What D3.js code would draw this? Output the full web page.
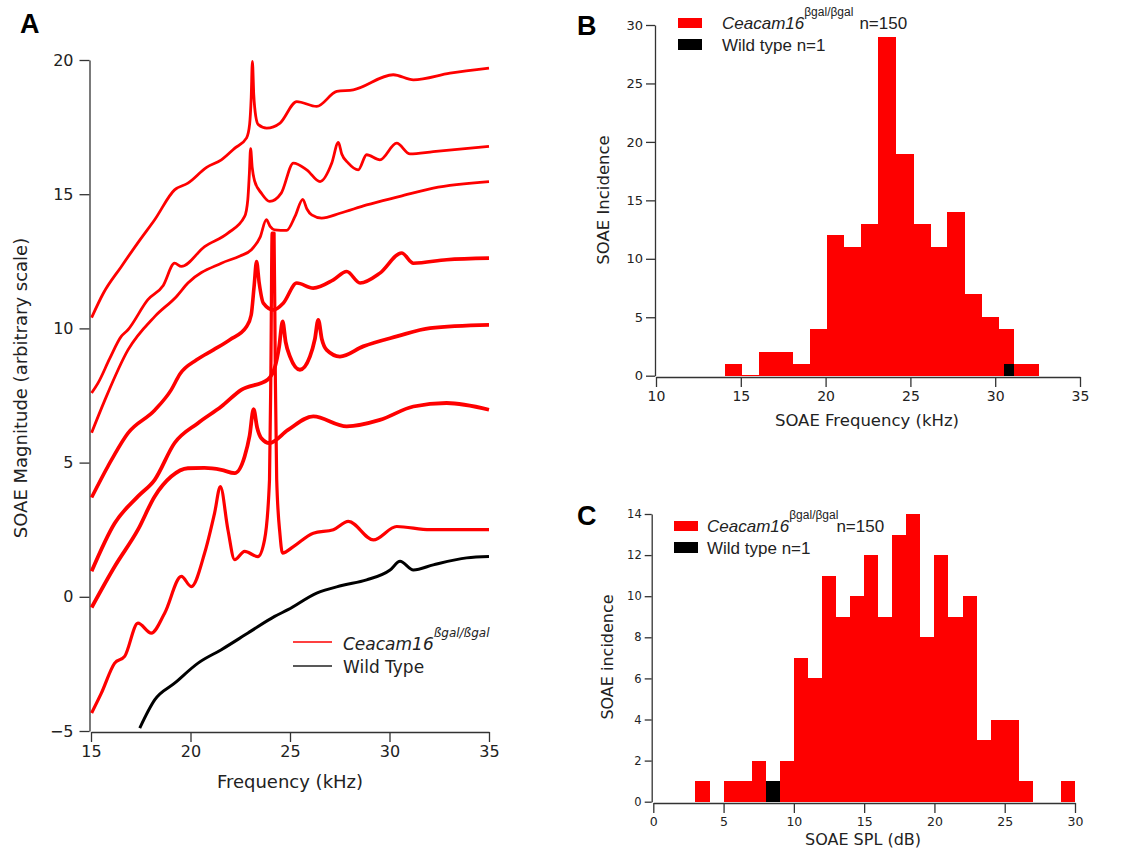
<!DOCTYPE html>
<html lang="en">
<head>
<meta charset="UTF-8">
<title>SOAE</title>
<script src="https://d3js.org/d3.v7.min.js"></script>
<style>
  body { margin: 0; background: #fff; }
  svg text { font-family: 'DejaVu Sans', sans-serif; fill: #222; }
  .axis path, .axis line { stroke: #333; stroke-width: 1.3; }
  .axis text { fill: #222; }
  .leg text { font-family: 'Liberation Sans', Arial, sans-serif; }
  .bars rect { shape-rendering: crispEdges; }
</style>
</head>
<body>
<svg id="fig" width="1134" height="851"></svg>
<script>
// ---- panel A: SOAE spectra ----
const trace1 = [[15.03,10.4],[15.62,11.31],[16.52,12.3],[17.46,13.30],[18.2,14.05],[19.2,15.16],[19.87,15.41],[20.81,16.0],[21.55,16.28],[22.2,16.7],[22.82,17.1],[22.97,17.6],[23.05,18.6],[23.11,19.95],[23.18,18.7],[23.28,17.9],[23.41,17.59],[23.83,17.46],[24.5,17.65],[25.34,18.45],[26.34,18.27],[27.35,18.83],[28.18,18.89],[30.19,19.45],[31.2,19.26],[33.04,19.51],[35.0,19.70]]
const trace2 = [[15.03,7.59],[15.35,7.96],[15.95,8.89],[16.52,9.70],[16.86,9.95],[17.86,11.07],[18.63,11.6],[19.2,12.43],[19.54,12.31],[20.71,13.05],[21.88,13.55],[22.72,14.17],[22.88,14.8],[22.96,15.8],[23.02,16.7],[23.1,16.0],[23.22,15.5],[23.56,15.04],[23.98,14.73],[24.56,15.04],[25.17,16.16],[25.84,15.91],[26.51,15.47],[27.1,16.16],[27.43,16.93],[27.6,16.5],[27.93,16.16],[28.43,15.91],[28.85,16.47],[29.52,16.28],[30.36,16.90],[31.03,16.50],[32.2,16.59],[35.0,16.78]]
const trace3 = [[15.03,6.11],[15.68,7.3],[16.86,9.2],[18.2,10.44],[19.31,11.2],[19.87,11.69],[21.55,12.43],[22.49,12.7],[23.06,12.93],[23.5,13.4],[23.81,14.05],[24.0,13.8],[24.23,13.67],[24.83,13.65],[25.25,14.17],[25.64,14.81],[25.85,14.45],[26.09,14.23],[26.59,14.11],[27.51,14.29],[28.85,14.60],[30.53,14.92],[32.2,15.23],[35.0,15.47]]
const trace4 = [[15.03,3.7],[15.85,4.86],[16.86,6.1],[18.2,6.95],[19.03,7.71],[19.47,8.3],[20.31,8.83],[21.15,9.20],[21.98,9.58],[22.82,10.07],[23.05,10.5],[23.2,11.6],[23.32,12.49],[23.45,11.7],[23.66,10.94],[24.16,10.69],[24.66,10.94],[25.34,11.69],[26.17,11.50],[27.18,11.81],[27.85,12.12],[28.52,11.69],[29.52,12.06],[30.61,12.81],[31.2,12.43],[32.87,12.56],[35.0,12.62]]
const trace5 = [[15.03,0.95],[16.19,2.74],[17.36,3.74],[18.2,4.36],[19.2,5.73],[20.37,6.47],[21.55,7.09],[22.55,7.71],[23.89,8.1],[24.25,8.58],[24.45,9.3],[24.63,10.26],[24.78,9.5],[25.0,8.95],[25.5,8.46],[26.0,8.95],[26.25,9.6],[26.42,10.32],[26.6,9.6],[26.84,9.20],[27.51,8.95],[28.68,9.33],[30.36,9.70],[32.04,10.01],[35.0,10.13]]
const trace6 = [[15.03,-0.4],[16.19,1.13],[17.36,2.50],[18.2,3.74],[19.03,4.48],[19.87,4.79],[20.7,4.8],[21.55,4.73],[22.22,4.61],[22.72,5.23],[22.97,6.0],[23.17,6.99],[23.35,6.3],[23.56,5.91],[23.97,5.73],[24.9,6.22],[26.17,6.72],[27.85,6.35],[29.52,6.59],[31.2,7.09],[32.87,7.22],[35.0,6.97]]
const trace7 = [[15.03,-4.33],[15.52,-3.59],[16.19,-2.47],[16.69,-2.22],[17.36,-0.98],[18.03,-1.35],[18.7,-0.61],[19.54,0.76],[20.04,0.38],[20.71,1.63],[21.21,3.12],[21.5,4.11],[21.88,2.5],[22.22,1.38],[22.72,1.69],[23.39,1.50],[23.72,2.12],[23.97,4.36],[24.04,8.5],[24.1,13.55],[24.2,13.55],[24.26,8.5],[24.33,4.4],[24.5,2.3],[24.62,1.63],[25.17,1.87],[26.17,2.37],[27.18,2.50],[27.93,2.81],[29.19,2.12],[30.36,2.62],[32.04,2.50],[35.0,2.50]]
const wildTrace = [[17.45,-4.89],[18.2,-3.84],[19.2,-3.22],[20.38,-2.47],[21.55,-1.97],[22.89,-1.35],[24.23,-0.73],[24.9,-0.48],[26.34,0.14],[27.6,0.42],[28.85,0.63],[30.03,1.0],[30.53,1.32],[31.2,1.0],[32.2,1.19],[33.88,1.45],[35.0,1.5]]
const aXTicks = [15, 20, 25, 30, 35]
const aYTicks = [-5, 0, 5, 10, 15, 20]

// ---- panel B: SOAE frequency histogram ----
const bEdges = [14.05,15.05,16.05,17.05,18.1,19.1,20.1,21.1,22.1,23.1,24.15,25.2,26.2,27.15,28.2,29.2,30.2,31.1,32.6]
const bCounts = [1,0,2,2,1,4,12,11,13,29,19,13,11,14,7,5,4,1]
const bWildEdges = [30.5, 31.1]
const bWildCounts = [1]
const bXTicks = [10, 15, 20, 25, 30, 35]
const bYTicks = [0, 5, 10, 15, 20, 25, 30]

// ---- panel C: SOAE level histogram (1 dB bins) ----
const cEdges = [3,4,5,6,7,8,9,10,11,12,13,14,15,16,17,18,19,20,21,22,23,24,25,26,27,28,29,30]
const cCounts = [1,0,1,1,2,0,2,7,6,11,9,10,12,9,13,14,8,12,9,10,3,4,4,1,0,0,1]
const cWildEdges = [8, 9]
const cWildCounts = [1]
const cXTicks = [0, 5, 10, 15, 20, 25, 30]
const cYTicks = [0, 2, 4, 6, 8, 10, 12, 14]

const red = '#fe0000'
const svg = d3.select('#fig')
svg.append('rect').attr('width', 1134).attr('height', 851).attr('fill', '#fff')

// panel letters
const letters = [['A', 20, 33], ['B', 577, 35], ['C', 577, 525]]
letters.forEach(l => {
  svg.append('text').attr('x', l[1]).attr('y', l[2]).text(l[0])
    .style('font-family', 'Liberation Sans, Arial, sans-serif')
    .style('font-weight', 'bold').style('font-size', '27px').style('fill', '#000')
})

// ================= A =================
let xA = d3.scaleLinear().domain([15, 35]).range([91, 489])
let yA = d3.scaleLinear().domain([-5, 20]).range([731, 60])

svg.append('g').attr('class', 'axis').attr('transform', 'translate(0,732)')
  .call(d3.axisBottom(xA).tickValues(aXTicks).tickSize(10).tickSizeOuter(0).tickPadding(4))
  .selectAll('text').style('font-size', '16px')
svg.append('g').attr('class', 'axis').attr('transform', 'translate(89.5,0)')
  .call(d3.axisLeft(yA).tickValues(aYTicks).tickSize(10).tickSizeOuter(0).tickPadding(6))
  .selectAll('text').style('font-size', '16px')

svg.append('text').attr('x', 290).attr('y', 788).attr('text-anchor', 'middle')
  .style('font-size', '18px').text('Frequency (kHz)')
svg.append('text').attr('transform', 'translate(27,388) rotate(-90)').attr('text-anchor', 'middle')
  .style('font-size', '18px').text('SOAE Magnitude (arbitrary scale)')

let line = d3.line().curve(d3.curveMonotoneX).x(d => xA(d[0])).y(d => yA(d[1]))
let redTraces = [trace1, trace2, trace3, trace4, trace5, trace6, trace7]
let redWidths = [2.8, 2.8, 2.8, 3.6, 3.8, 3.8, 3.2]
svg.selectAll('path.red').data(redTraces).enter().append('path')
  .attr('class', 'red')
  .attr('d', line)
  .attr('fill', 'none').attr('stroke', red)
  .attr('stroke-width', (d, i) => redWidths[i])
  .attr('stroke-linejoin', 'round')
svg.append('path').datum(wildTrace).attr('d', line)
  .attr('fill', 'none').attr('stroke', '#000').attr('stroke-width', 3)
  .attr('stroke-linejoin', 'round')

// legend A
svg.append('line').attr('x1', 293).attr('x2', 332).attr('y1', 642).attr('y2', 642)
  .attr('stroke', red).attr('stroke-width', 1.5)
svg.append('line').attr('x1', 293).attr('x2', 332).attr('y1', 666).attr('y2', 666)
  .attr('stroke', '#222').attr('stroke-width', 1.5)
let legA = svg.append('text').attr('x', 343).attr('y', 650).style('font-size', '17px').style('font-style', 'italic')
legA.append('tspan').text('Ceacam16')
legA.append('tspan').attr('dy', -13).style('font-size', '12px').text('ßgal/ßgal')
svg.append('text').attr('x', 343).attr('y', 673).style('font-size', '17px').text('Wild Type')

// ================= histograms =================
function histPanel (o) {
  let x = d3.scaleLinear().domain(o.xDomain).range(o.xRange)
  let y = d3.scaleLinear().domain(o.yDomain).range(o.yRange)
  let bins = o.counts.map((c, i) => ({ x0: o.edges[i], x1: o.edges[i + 1], n: c }))
    .filter(d => d.n > 0 || o.zeroLine)
  svg.append('g').attr('class', 'bars').selectAll('rect').data(bins).enter().append('rect')
    .attr('x', d => Math.round(x(d.x0)))
    .attr('width', d => Math.round(x(d.x1)) - Math.round(x(d.x0)))
    .attr('y', d => d.n > 0 ? y(d.n) : y(0) - 1.2)
    .attr('height', d => d.n > 0 ? y(0) - y(d.n) : 1.2)
    .attr('fill', red)
  let wild = o.wildCounts.map((c, i) => ({ x0: o.wildEdges[i], x1: o.wildEdges[i + 1], n: c }))
  svg.append('g').attr('class', 'bars').selectAll('rect').data(wild).enter().append('rect')
    .attr('x', d => Math.round(x(d.x0)))
    .attr('width', d => Math.round(x(d.x1)) - Math.round(x(d.x0)))
    .attr('y', d => y(d.n)).attr('height', d => y(0) - y(d.n))
    .attr('fill', '#000')

  svg.append('g').attr('class', 'axis').attr('transform', 'translate(0,' + o.xAxisY + ')')
    .call(d3.axisBottom(x).tickValues(o.xTicks).tickSize(10).tickSizeOuter(0).tickPadding(4))
    .selectAll('text').style('font-size', o.xFont)
  svg.append('g').attr('class', 'axis').attr('transform', 'translate(' + o.yAxisX + ',0)')
    .call(d3.axisLeft(y).tickValues(o.yTicks).tickSize(o.yTick).tickSizeOuter(0).tickPadding(3))
    .selectAll('text').style('font-size', o.yFont)

  svg.append('text').attr('x', o.xTitle[0]).attr('y', o.xTitle[1]).attr('text-anchor', 'middle')
    .style('font-size', o.titleFont).text(o.xLabel)
  svg.append('text').attr('transform', 'translate(' + o.yTitle[0] + ',' + o.yTitle[1] + ') rotate(-90)')
    .attr('text-anchor', 'middle').style('font-size', o.titleFont).text(o.yLabel)

  // legend
  let g = svg.append('g').attr('class', 'leg')
  g.append('rect').attr('x', o.leg[0]).attr('y', o.leg[1] - 11).attr('width', 24).attr('height', 10).attr('fill', red)
  g.append('rect').attr('x', o.leg[0]).attr('y', o.leg[1] + 10).attr('width', 24).attr('height', 11).attr('fill', '#000')
  let t = g.append('text').attr('x', o.leg[0] + o.legGap).attr('y', o.leg[1]).style('font-size', '17px')
  t.append('tspan').style('font-style', 'italic').text('Ceacam16')
  t.append('tspan').attr('dy', -13).style('font-size', '12px').text('βgal/βgal')
  t.append('tspan').attr('dy', 13).attr('dx', o.nGap).text('n=150')
  g.append('text').attr('x', o.leg[0] + o.legGap).attr('y', o.leg[1] + 22).style('font-size', '17px').text('Wild type n=1')
}

histPanel({
  xDomain: [10, 35], xRange: [656, 1080], yDomain: [0, 30], yRange: [375.7, 25],
  edges: bEdges, counts: bCounts, wildEdges: bWildEdges, wildCounts: bWildCounts,
  xTicks: bXTicks, yTicks: bYTicks, xAxisY: 377, yAxisX: 655, yTick: 9,
  xFont: '14px', yFont: '13px', titleFont: '16.5px', zeroLine: true,
  xLabel: 'SOAE Frequency (kHz)', yLabel: 'SOAE Incidence',
  xTitle: [867, 426], yTitle: [609, 200],
  leg: [678, 29], legGap: 44, nGap: 6
})

histPanel({
  xDomain: [0, 30], xRange: [653.3, 1075], yDomain: [0, 14], yRange: [801.7, 514],
  edges: cEdges, counts: cCounts, wildEdges: cWildEdges, wildCounts: cWildCounts,
  xTicks: cXTicks, yTicks: cYTicks, xAxisY: 803, yAxisX: 651.7, yTick: 7,
  xFont: '12.5px', yFont: '11.5px', titleFont: '16px', zeroLine: false,
  xLabel: 'SOAE SPL (dB)', yLabel: 'SOAE incidence',
  xTitle: [863, 845], yTitle: [613, 657],
  leg: [674, 532], legGap: 33, nGap: -2
})
</script>
</body>
</html>
